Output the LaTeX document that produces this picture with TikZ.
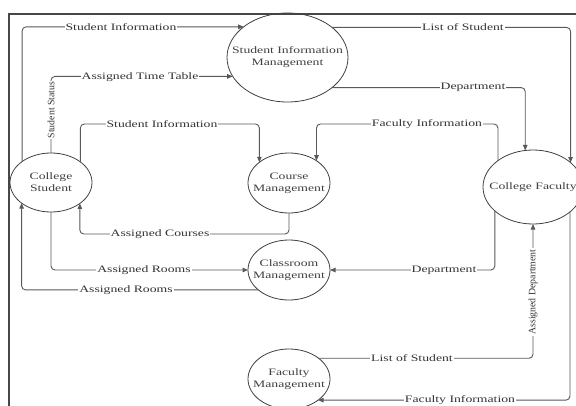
\documentclass[tikz,border=0pt]{standalone}
\usepackage{fontspec}
\setmainfont{Liberation Serif}[FakeStretch=1.4]
\newfontfamily\uprightserif{Liberation Serif}
\usetikzlibrary{shapes.geometric,arrows.meta}

\tikzset{
  proc/.style={ellipse, draw=black!75, line width=0.8pt, inner sep=0pt, outer sep=0pt},
  ptext/.style={align=center, text=black!75, inner sep=0pt,
    font=\fontsize{9.8}{12}\selectfont},
  flow/.style={draw=black!65, line width=0.9pt, rounded corners=4pt},
  into/.style={-{Triangle[length=5.5pt,width=4.5pt]}},
  lbl/.style={fill=white, inner sep=1pt, text=black!80,
    font=\fontsize{9.8}{12}\selectfont},
  vlbl/.style={lbl, rotate=90, font=\uprightserif\fontsize{9.8}{12}\selectfont},
  frame/.style={draw=black!72, line width=1.5pt}
}

\begin{document}
\begin{tikzpicture}[x=1pt, y=-1pt]
  \useasboundingbox (0,0) rectangle (576,405);
  \clip (0,0) rectangle (576,405);
  \fill[white] (0,0) rectangle (576,405);

  % outer frame
  \draw[frame] (9,14) rectangle (640,460);

  % processes and entities
  \node[proc, minimum width=121pt, minimum height=89pt] (sim) at (287.5,57.5) {};
  \node[proc, minimum width=82pt, minimum height=59pt] (cs) at (51,182.5) {};
  \node[proc, minimum width=82pt, minimum height=60pt] (cm) at (289,183) {};
  \node[proc, minimum width=82pt, minimum height=60pt] (crm) at (289,270) {};
  \node[proc, minimum width=100pt, minimum height=74pt] (cf) at (533,187) {};
  \node[proc, minimum width=82pt, minimum height=60pt] (fm) at (289,379) {};

  \node[ptext] (simt) at (sim) {Student Information\\Management};
  \node[ptext] (cst) at (cs) {College\\Student};
  \node[ptext] (cmt) at (cm) {Course\\Management};
  \node[ptext] (crmt) at (crm) {Classroom\\Management};
  \node[ptext] (cft) at (cf) {College Faculty};
  \node[ptext] (fmt) at (fm) {Faculty\\Management};

  % levels of the horizontal runs
  \coordinate (lvA) at (0,124);
  \coordinate (lvB) at (0,234);

  % data flows
  \draw[flow, into] (cs.144.3) |- (sim.145.3);
  \draw[flow, into] (cs.90) |- (sim.199.7);
  \draw[flow, into] (cs.35.7) -- (cs.35.7 |- lvA) -- (cm.145.7 |- lvA) -- (cm.145.7);
  \draw[flow, into] (cm.270) -- (cm.270 |- lvB) -- (cs.324.3 |- lvB) -- (cs.324.3);
  \draw[flow, into] (cs.270) |- (crm.180);
  \draw[flow, into] (crm.213.2) -| (cs.215.7);
  \draw[flow, into] (sim.34.7) -| (cf.33.9);
  \draw[flow, into] (sim.326.9) -| (cf.102.4);
  \draw[flow, into] (cf.143.0) -- (cf.143.0 |- lvA) -- (cm.39.9 |- lvA) -- (cm.39.9);
  \draw[flow, into] (cf.212.3) |- (crm.0);
  \draw[flow, into] (fm.35.6) -| (cf.270);
  \draw[flow, into] (cf.326.1) |- (fm.324.4);

  % flow labels
  \node[lbl] (l1) at (121,27) {Student Information};
  \node[lbl] (l2) at (140,77) {Assigned Time Table};
  \node[vlbl] (l3) at (51,110) {Student Status};
  \node[lbl] (l4) at (162,124) {Student Information};
  \node[lbl] (l5) at (160,234) {Assigned Courses};
  \node[lbl] (l6) at (144,270) {Assigned Rooms};
  \node[lbl] (l7) at (126,290) {Assigned Rooms};
  \node[lbl] (l8) at (463,27) {List of Student};
  \node[lbl] (l9) at (473,87) {Department};
  \node[lbl] (l10) at (427,124) {Faculty Information};
  \node[lbl] (l11) at (444,270) {Department};
  \node[lbl] (l12) at (412,358) {List of Student};
  \node[vlbl] (l13) at (533,292) {Assigned Department};
  \node[lbl] (l14) at (460,400) {Faculty Information};
\end{tikzpicture}
\end{document}
